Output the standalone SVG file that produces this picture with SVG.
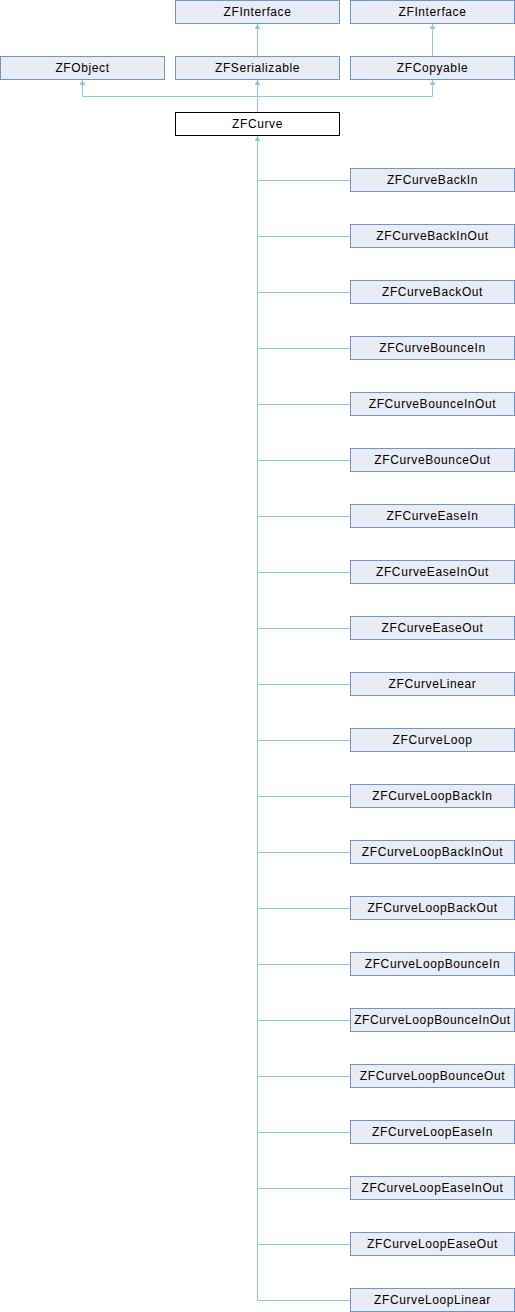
<svg xmlns="http://www.w3.org/2000/svg" width="515" height="1312" viewBox="0 0 515 1312">
<style>
.n rect{fill:#e7ecf5;stroke:#7393cb;stroke-width:1}
.m rect{fill:#ffffff;stroke:#000000;stroke-width:1}
text{font-family:"Liberation Sans",Arial,sans-serif;font-size:12px;letter-spacing:0.6px;text-anchor:middle;fill:#000}
.e path,.e line{stroke:#8fc6e6;stroke-width:1;fill:none}
</style>
<defs>
<marker id="a" markerUnits="userSpaceOnUse" markerWidth="5" markerHeight="6" viewBox="0 0 5 6" refX="5" refY="3" orient="auto">
<path d="M0,0 L5,3 L0,6 z" fill="#8fc6e6"/>
</marker>
</defs>
<rect width="515" height="1312" fill="#ffffff"/>
<g class="e" id="connectors">
<line x1="257.5" y1="56" x2="257.5" y2="24" marker-end="url(#a)"/>
<line x1="432.5" y1="56" x2="432.5" y2="24" marker-end="url(#a)"/>
<line x1="257.5" y1="112" x2="257.5" y2="80" marker-end="url(#a)"/>
<path d="M257.5,96.5 H82.5 V80" marker-end="url(#a)"/>
<path d="M257.5,96.5 H432.5 V80" marker-end="url(#a)"/>
<path d="M257.5,1300.5 V136" marker-end="url(#a)"/>
<path d="M257.5,180.5 H350 M257.5,236.5 H350 M257.5,292.5 H350 M257.5,348.5 H350 M257.5,404.5 H350 M257.5,460.5 H350 M257.5,516.5 H350 M257.5,572.5 H350 M257.5,628.5 H350 M257.5,684.5 H350 M257.5,740.5 H350 M257.5,796.5 H350 M257.5,852.5 H350 M257.5,908.5 H350 M257.5,964.5 H350 M257.5,1020.5 H350 M257.5,1076.5 H350 M257.5,1132.5 H350 M257.5,1188.5 H350 M257.5,1244.5 H350 M257.5,1300.5 H350"/>
</g>
<g id="ZFInterface1" class="n"><rect x="175.5" y="0.5" width="164" height="23"/><text x="257.5" y="16">ZFInterface</text></g>
<g id="ZFInterface2" class="n"><rect x="350.5" y="0.5" width="164" height="23"/><text x="432.5" y="16">ZFInterface</text></g>
<g id="ZFObject" class="n"><rect x="0.5" y="56.5" width="164" height="23"/><text x="82.5" y="72">ZFObject</text></g>
<g id="ZFSerializable" class="n"><rect x="175.5" y="56.5" width="164" height="23"/><text x="257.5" y="72">ZFSerializable</text></g>
<g id="ZFCopyable" class="n"><rect x="350.5" y="56.5" width="164" height="23"/><text x="432.5" y="72">ZFCopyable</text></g>
<g id="ZFCurve" class="m"><rect x="175.5" y="112.5" width="164" height="23"/><text x="257.5" y="128">ZFCurve</text></g>
<g id="ZFCurveBackIn" class="n"><rect x="350.5" y="168.5" width="164" height="23"/><text x="432.5" y="184">ZFCurveBackIn</text></g>
<g id="ZFCurveBackInOut" class="n"><rect x="350.5" y="224.5" width="164" height="23"/><text x="432.5" y="240">ZFCurveBackInOut</text></g>
<g id="ZFCurveBackOut" class="n"><rect x="350.5" y="280.5" width="164" height="23"/><text x="432.5" y="296">ZFCurveBackOut</text></g>
<g id="ZFCurveBounceIn" class="n"><rect x="350.5" y="336.5" width="164" height="23"/><text x="432.5" y="352">ZFCurveBounceIn</text></g>
<g id="ZFCurveBounceInOut" class="n"><rect x="350.5" y="392.5" width="164" height="23"/><text x="432.5" y="408">ZFCurveBounceInOut</text></g>
<g id="ZFCurveBounceOut" class="n"><rect x="350.5" y="448.5" width="164" height="23"/><text x="432.5" y="464">ZFCurveBounceOut</text></g>
<g id="ZFCurveEaseIn" class="n"><rect x="350.5" y="504.5" width="164" height="23"/><text x="432.5" y="520">ZFCurveEaseIn</text></g>
<g id="ZFCurveEaseInOut" class="n"><rect x="350.5" y="560.5" width="164" height="23"/><text x="432.5" y="576">ZFCurveEaseInOut</text></g>
<g id="ZFCurveEaseOut" class="n"><rect x="350.5" y="616.5" width="164" height="23"/><text x="432.5" y="632">ZFCurveEaseOut</text></g>
<g id="ZFCurveLinear" class="n"><rect x="350.5" y="672.5" width="164" height="23"/><text x="432.5" y="688">ZFCurveLinear</text></g>
<g id="ZFCurveLoop" class="n"><rect x="350.5" y="728.5" width="164" height="23"/><text x="432.5" y="744">ZFCurveLoop</text></g>
<g id="ZFCurveLoopBackIn" class="n"><rect x="350.5" y="784.5" width="164" height="23"/><text x="432.5" y="800">ZFCurveLoopBackIn</text></g>
<g id="ZFCurveLoopBackInOut" class="n"><rect x="350.5" y="840.5" width="164" height="23"/><text x="432.5" y="856">ZFCurveLoopBackInOut</text></g>
<g id="ZFCurveLoopBackOut" class="n"><rect x="350.5" y="896.5" width="164" height="23"/><text x="432.5" y="912">ZFCurveLoopBackOut</text></g>
<g id="ZFCurveLoopBounceIn" class="n"><rect x="350.5" y="952.5" width="164" height="23"/><text x="432.5" y="968">ZFCurveLoopBounceIn</text></g>
<g id="ZFCurveLoopBounceInOut" class="n"><rect x="350.5" y="1008.5" width="164" height="23"/><text x="432.5" y="1024">ZFCurveLoopBounceInOut</text></g>
<g id="ZFCurveLoopBounceOut" class="n"><rect x="350.5" y="1064.5" width="164" height="23"/><text x="432.5" y="1080">ZFCurveLoopBounceOut</text></g>
<g id="ZFCurveLoopEaseIn" class="n"><rect x="350.5" y="1120.5" width="164" height="23"/><text x="432.5" y="1136">ZFCurveLoopEaseIn</text></g>
<g id="ZFCurveLoopEaseInOut" class="n"><rect x="350.5" y="1176.5" width="164" height="23"/><text x="432.5" y="1192">ZFCurveLoopEaseInOut</text></g>
<g id="ZFCurveLoopEaseOut" class="n"><rect x="350.5" y="1232.5" width="164" height="23"/><text x="432.5" y="1248">ZFCurveLoopEaseOut</text></g>
<g id="ZFCurveLoopLinear" class="n"><rect x="350.5" y="1288.5" width="164" height="23"/><text x="432.5" y="1304">ZFCurveLoopLinear</text></g>
</svg>
